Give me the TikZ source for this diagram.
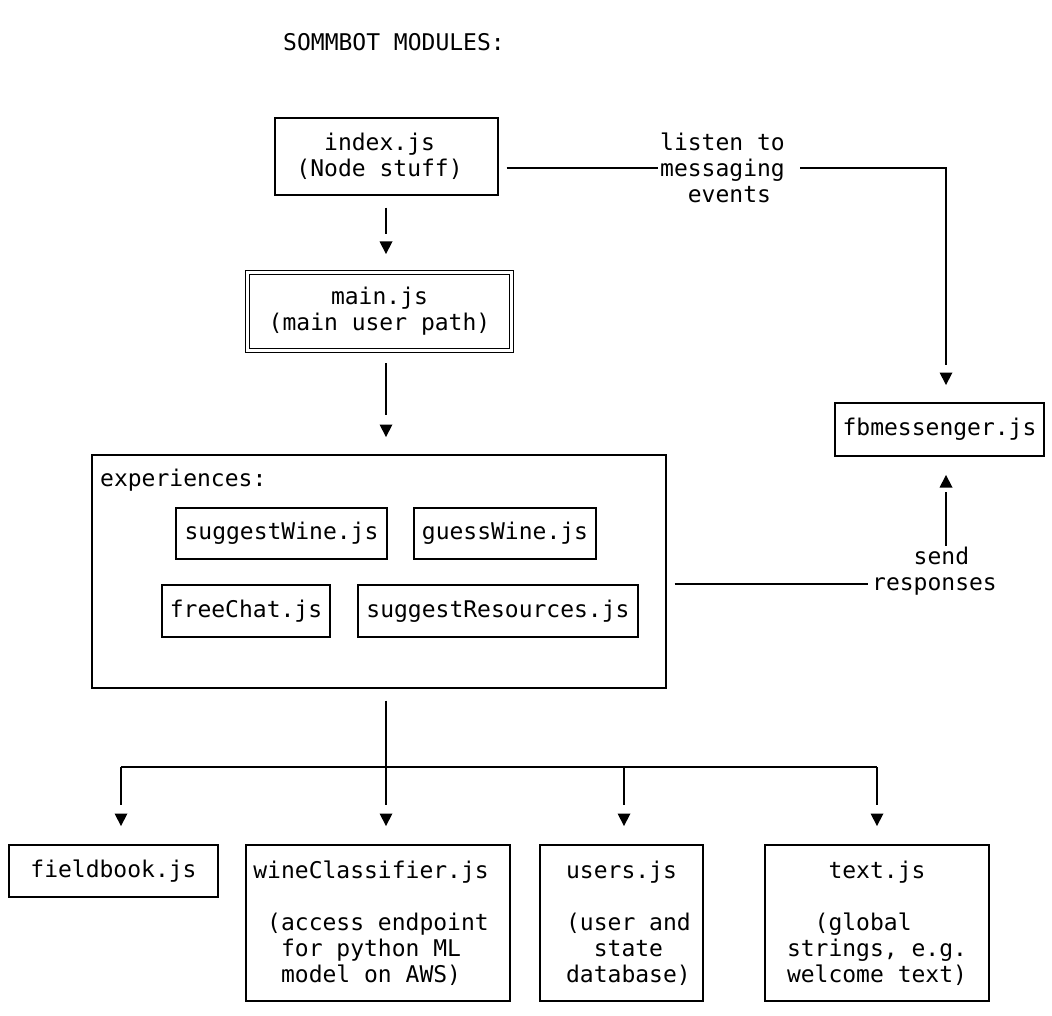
\documentclass[tikz,border=0pt]{standalone}
\usepackage{fontspec}
\newfontfamily\mono{DejaVu Sans Mono}
\usetikzlibrary{calc}
\newcommand{\pad}[1]{\hphantom{#1}}

\begin{document}
\frenchspacing
\begin{tikzpicture}[x=1pt,y=-1pt,
  every node/.style={font=\mono\fontsize{23}{26}\selectfont, inner sep=0pt},
  box/.style={draw, line width=1.3pt, rectangle, align=center},
  wire/.style={line width=1.3pt},
  lbl/.style={align=left},
  pics/tipdown/.style={code={\fill (0,0) -- (-6.5,-12.5) -- (6.5,-12.5) -- cycle;}},
  pics/tipup/.style={code={\fill (0,0) -- (-6.5,12.5) -- (6.5,12.5) -- cycle;}},
]
\useasboundingbox (0,0) rectangle (1052,1016);

% title
\node (title) at (394,42) {SOMMBOT MODULES:};

% entry point and main path
\node[box, minimum width=223pt, minimum height=77pt] (index) at (386.5,156.5) {index.js\pad{x}\\(Node stuff)\pad{x}};
\node[box, double, double distance=2.2pt, line width=1.2pt, minimum width=264pt, minimum height=78pt] (main) at (379.5,311.5) {main.js\\(main user path)};

% experiences container
\node[box, minimum width=574pt, minimum height=233pt] (exp) at (379,571.5) {};
\node[anchor=west] (explabel) at (100,480) {experiences:};
\node[box, minimum width=211pt, minimum height=51pt] (suggest) at (281.5,533.5) {suggestWine.js};
\node[box, minimum width=182pt, minimum height=51pt] (guess) at (505,533.5) {guessWine.js};
\node[box, minimum width=168pt, minimum height=52pt] (free) at (246,611) {freeChat.js};
\node[box, minimum width=280pt, minimum height=52pt] (res) at (498,611) {suggestResources.js};

% messenger
\node[box, minimum width=209pt, minimum height=53pt] (fb) at (939.5,429.5) {fbmessenger.js};

% helper modules
\node[box, minimum width=209pt, minimum height=52pt] (field) at (113.5,871) {fieldbook.js};
\node[box, align=left, minimum width=264pt, minimum height=156pt] (wine) at (378,923)
  {wineClassifier.js\pad{x}\\[26pt]\pad{x}(access endpoint\\\pad{xx}for python ML\\\pad{xx}model on AWS)};
\node[box, align=left, minimum width=163pt, minimum height=156pt] (users) at (621.5,923)
  {\pad{x}users.js\\[26pt]\pad{x}(user and\\\pad{xxx}state\\\pad{x}database)};
\node[box, align=left, minimum width=224pt, minimum height=156pt] (text) at (877,923)
  {\pad{xxx}text.js\\[26pt]\pad{xx}(global\\strings, e.g.\\welcome text)};

% connector labels
\node[lbl] (listen) at (722.5,168) {listen to\\messaging\\\pad{xx}events};
\node[lbl] (send) at (934.5,571) {\pad{xxx}send\\responses};

% index -> main
\coordinate (t1) at (386,254);
\draw[wire, shorten <=12pt, shorten >=20pt] (index.south -| t1) -- (t1);
\pic at (t1) {tipdown};

% main -> experiences
\coordinate (t2) at (386,437);
\draw[wire, shorten <=12pt, shorten >=22pt] (main.south -| t2) -- (t2);
\pic at (t2) {tipdown};

% index -> fbmessenger
\coordinate (t3) at (946,385);
\draw[wire, shorten <=8pt, shorten >=2pt] (index.east |- listen.west) -- (listen.west);
\draw[wire, shorten <=15pt, shorten >=20pt] (listen.east) -| (t3);
\pic at (t3) {tipdown};

% experiences -> fbmessenger
\coordinate (r) at ($(send.west)+(0,13)$);
\coordinate (t4) at (946,475);
\draw[wire, shorten <=8pt, shorten >=4pt] (exp.east |- r) -- (r);
\draw[wire, shorten <=1pt, shorten >=17pt] (send.north -| t4) -- (t4);
\pic at (t4) {tipup};

% experiences -> helper modules
\coordinate (split) at (386,767);
\coordinate (b1) at (121,767);
\coordinate (b4) at (877,767);
\coordinate (b3) at (624,767);
\coordinate (t5) at (121,826);
\coordinate (t6) at (386,826);
\coordinate (t7) at (624,826);
\coordinate (t8) at (877,826);
\draw[wire, shorten <=12pt] (exp.south -| split) -- (split);
\draw[wire] (b1) -- (b4);
\draw[wire, shorten >=21pt] (b1) -- (t5);
\draw[wire, shorten >=21pt] (split) -- (t6);
\draw[wire, shorten >=21pt] (b3) -- (t7);
\draw[wire, shorten >=21pt] (b4) -- (t8);
\pic at (t5) {tipdown};
\pic at (t6) {tipdown};
\pic at (t7) {tipdown};
\pic at (t8) {tipdown};
\end{tikzpicture}
\end{document}
